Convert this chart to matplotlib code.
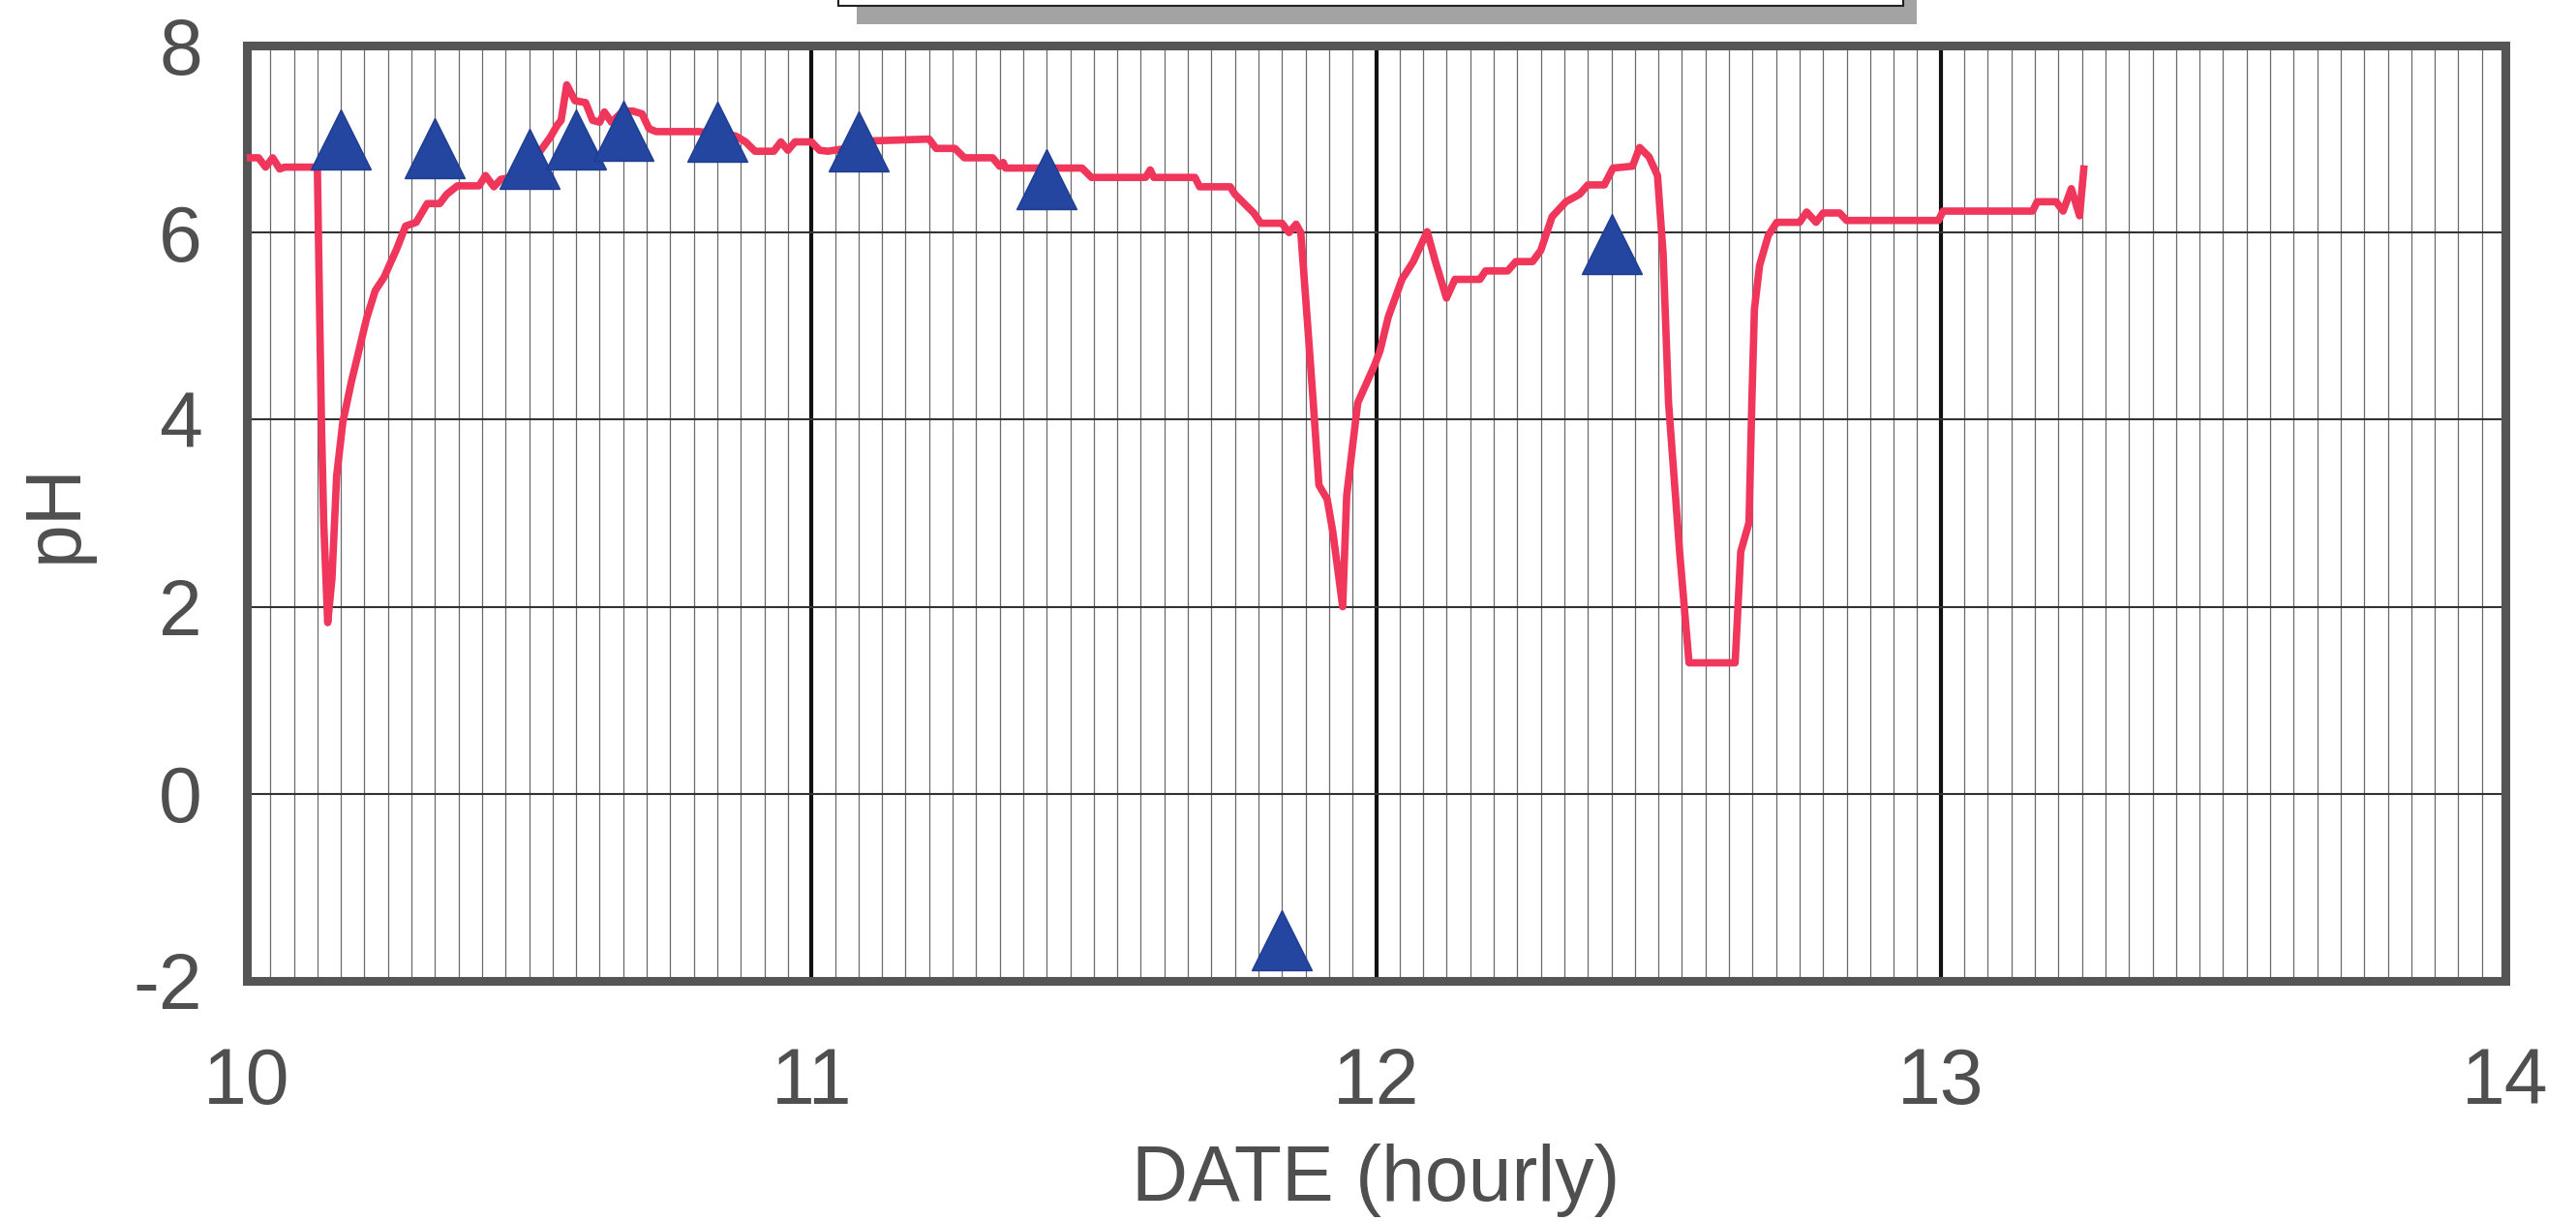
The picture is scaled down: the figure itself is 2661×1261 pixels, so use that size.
# -*- coding: utf-8 -*-
import numpy as np
import matplotlib.pyplot as plt
from matplotlib.patches import Rectangle

plt.rcParams['font.family'] = ['Liberation Sans', 'DejaVu Sans']
plt.rcParams['axes.unicode_minus'] = False

# pH record, time in hours after the start of day 10.
hours = [0.0, 0.5, 0.8, 1.1, 1.4, 1.6, 3.0, 3.1, 3.18, 3.27, 3.44, 3.62, 3.82,
         4.08, 4.45, 4.72, 5.09, 5.46, 5.83, 6.38, 6.75, 7.2, 7.67, 8.2, 8.5,
         8.95, 9.87, 10.15, 10.5, 10.8, 11.5, 12.1, 12.44, 12.9, 13.2, 13.36,
         13.6, 13.95, 14.4, 14.7, 15.0, 15.2, 15.5, 16.0, 16.4, 16.8, 17.1,
         17.4, 19.2, 20.5, 20.8, 21.2, 21.6, 22.4, 22.7, 23.0, 23.3, 24.0,
         24.35, 24.7, 25.5, 26.5, 29.0, 29.3, 30.1, 30.5, 31.7, 32.0, 32.15,
         32.25, 35.5, 35.9, 38.2, 38.4, 38.55, 40.3, 40.5, 41.8, 42.0, 42.4,
         42.8, 43.1, 44.0, 44.3, 44.6, 44.8, 45.1, 45.33, 45.57, 45.92, 46.16,
         46.58, 46.75, 47.22, 47.93, 48.17, 48.52, 49.1, 49.58, 50.17, 50.52,
         50.99, 51.35, 52.41, 52.65, 53.59, 53.94, 54.65, 55.0, 55.48, 56.07,
         56.65, 57.0, 57.7, 58.07, 58.9, 59.2, 59.6, 59.96, 60.2, 60.43, 60.9,
         61.3, 63.26, 63.5, 63.85, 63.97, 64.08, 64.3, 64.67, 65.03, 66.0,
         66.3, 66.7, 67.0, 67.7, 68.0, 71.9, 72.1, 75.9, 76.1, 76.9, 77.2,
         77.55, 77.9, 78.08]
ph = [6.8, 6.8, 6.7, 6.8, 6.68, 6.7, 6.7, 5.1, 3.9, 2.9, 1.83, 2.3, 3.4,
      3.97, 4.41, 4.69, 5.08, 5.38, 5.52, 5.83, 6.07, 6.11, 6.31, 6.31, 6.41,
      6.5, 6.5, 6.61, 6.49, 6.57, 6.6, 6.7, 6.86, 7.02, 7.15, 7.2,
      7.58, 7.41, 7.39, 7.2, 7.18, 7.29, 7.18, 7.3, 7.3, 7.27, 7.11,
      7.08, 7.08, 7.05, 7.03, 6.97, 6.87, 6.87, 6.97, 6.88, 6.97, 6.97,
      6.88, 6.87, 6.9, 6.98, 7.0, 6.9, 6.9, 6.8, 6.8, 6.71, 6.75,
      6.69, 6.69, 6.59, 6.59, 6.67, 6.59, 6.59, 6.49, 6.49, 6.41, 6.31,
      6.21, 6.1, 6.1, 6.0, 6.09, 6.0, 4.98, 4.18, 3.3, 3.15, 2.8,
      2.0, 3.19, 4.18, 4.58, 4.74, 5.1, 5.5, 5.69, 6.01, 5.69,
      5.3, 5.5, 5.5, 5.59, 5.59, 5.69, 5.69, 5.81, 6.17, 6.33,
      6.41, 6.51, 6.51, 6.69, 6.71, 6.91, 6.81, 6.61, 5.77, 4.18, 2.59,
      1.4, 1.4, 2.59, 2.9, 4.18, 5.18, 5.65, 5.97, 6.11, 6.11,
      6.22, 6.11, 6.21, 6.21, 6.13, 6.13, 6.23, 6.23, 6.33, 6.33, 6.23,
      6.47, 6.18, 6.68]

# Spot samples (triangles), time in hours after the start of day 10.
sample_hours = [4, 8, 12, 14, 16, 20, 26, 34, 44, 58]
sample_ph = [7.0, 6.9, 6.79, 7.0, 7.09, 7.08, 6.98, 6.57, -1.57, 5.88]

x_ticks = [10, 11, 12, 13, 14]
y_ticks = [-2, 0, 2, 4, 6, 8]

text_color = '#4f4f4f'
frame_color = '#555555'

fig = plt.figure(figsize=(26.61, 12.61), dpi=100)
ax = fig.add_axes([0.0958, 0.1967, 0.8768, 0.766])

days = 10 + np.array(hours) / 24
sample_days = 10 + np.array(sample_hours) / 24

ax.plot(days, ph, color='#f0365a', lw=5.5, zorder=3)
ax.plot(sample_days, sample_ph, linestyle='none', marker='^', ms=44,
        color='#2446a0', mec='#1f3d8f', mew=1, zorder=4)

# Axes limits, ticks and grid.
ax.set_xlim(10, 14)
ax.set_ylim(-2, 8)
ax.set_xticks(x_ticks)
ax.set_xticks(np.arange(10, 14, 1 / 24), minor=True)
ax.set_yticks(y_ticks)
ax.grid(which='minor', axis='x', color='#6a6a6a', lw=0.9, zorder=1)
ax.grid(which='major', axis='x', color='#111111', lw=3.0, zorder=1)
ax.grid(which='major', axis='y', color='#333333', lw=1.5, zorder=1)
ax.set_axisbelow(True)
ax.tick_params(which='both', length=0, labelsize=58, labelcolor=text_color)
ax.tick_params(axis='y', pad=33)
ax.tick_params(axis='x', pad=49)
for s in ax.spines.values():
    s.set_color(frame_color)
    s.set_linewidth(6.5)

ax.set_xlabel('DATE (hourly)', fontsize=58, color=text_color, labelpad=17)
ax.set_ylabel('pH', fontsize=58, color=text_color)
ax.yaxis.set_label_coords(-0.068, 0.5)

# Cut-off legend box at the top edge.
fig.add_artist(Rectangle((0.3326, 0.9802), 0.4115, 0.05, transform=fig.transFigure,
                         facecolor='#a3a3a3', edgecolor='none', zorder=5))
fig.add_artist(Rectangle((0.3254, 0.9952), 0.4134, 0.05, transform=fig.transFigure,
                         facecolor='white', edgecolor='#222222', lw=1.5, zorder=6))

plt.savefig('out.png', dpi=100)
